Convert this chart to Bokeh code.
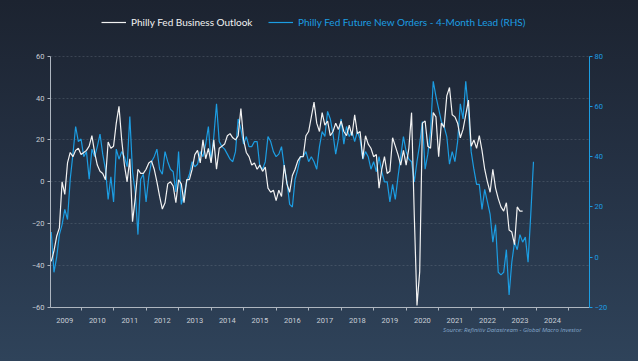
import numpy as np
from bokeh.plotting import figure
from bokeh.models import (Range1d, LinearAxis, FixedTicker, CustomJSTickFormatter,
                          Legend, LegendItem, Title)
from bokeh.embed import file_html
from bokeh.resources import INLINE

# ---- data (monthly, first month = Jan 2009) ----
start_year = 2009
outlook = [
    -38, -33, -26, -22, 0, -6, 9, 14, 12, 15, 16, 13,        # 2009
    14, 15, 17, 22, 14, 8, 5, 4, 1, 19, 16, 17,              # 2010
    28, 36, 20, 8, 0, 11, -19, -8, 6, 4, 4, 6,               # 2011
    9, 10, 6, 0, -7, -13, -10, -1, 0, -2, -10, 1,            # 2012
    -1, -10, 1, 1, 6, 13, 15, 9, 20, 11, 16, 9,              # 2013
    20, 6, 16, 17, 18, 22, 23, 21, 20, 22, 35, 20,           # 2014
    14, 12, 8, 9, 6, 8, 5, 7, -3, -5, -4, -9,                # 2015
    -4, -7, 8, -1, -5, 3, 6, 10, 12, 12, 22, 24,             # 2016
    31, 38, 28, 24, 33, 27, 29, 22, 24, 28, 25, 29,          # 2017
    24, 22, 27, 22, 32, 23, 24, 11, 22, 18, 16, 12,          # 2018
    13, -3, 6, 12, 4, 5, 21, 17, 13, 8, 15, 8,               # 2019
    16, 33, -16, -59, -43, 28, 29, 17, 16, 33, 31, 12,       # 2020
    28, 26, 41, 45, 32, 31, 28, 21, 25, 32, 39, 17,          # 2021
    20, 16, 22, 15, 6, 0, -5, 6, -3, -8, -12, -14,           # 2022
    -10, -23, -24, -30, -12, -14, -14,                       # 2023
]
new_orders_lead = [
    10, -6, 0, 9, 13, 19, 15, 31, 41, 52, 46, 47,            # 2009
    40, 42, 31, 43, 40, 44, 49, 41, 35, 23, 32, 22,          # 2010
    43, 39, 42, 40, 36, 56, 34, 26, 9, 31, 33, 22,           # 2011
    32, 38, 40, 43, 35, 33, 42, 38, 35, 34, 26, 42,          # 2012
    21, 25, 30, 33, 38, 36, 37, 42, 40, 45, 52, 38,          # 2013
    48, 61, 46, 44, 43, 41, 39, 38, 42, 55, 51, 45,          # 2014
    48, 44, 44, 46, 46, 36, 35, 38, 48, 46, 42, 40,          # 2015
    41, 44, 36, 30, 21, 20, 31, 35, 40, 40, 42, 38,          # 2016
    40, 38, 35, 44, 50, 48, 58, 55, 49, 41, 47, 55,          # 2017
    45, 52, 48, 50, 46, 50, 47, 39, 42, 40, 35, 38,          # 2018
    34, 40, 34, 30, 30, 22, 29, 23, 32, 40, 48, 42,          # 2019
    39, 38, 30, 38, 45, 54, 35, 41, 50, 70, 64, 59,          # 2020
    54, 52, 48, 37, 42, 38, 46, 61, 55, 70, 58, 42,          # 2021
    35, 29, 29, 19, 27, 22, 17, 6, 13, -6, -7, -6,           # 2022
    3, -15, -2, 6, 3, 9, 6, 8, -2, 17, 38,                   # 2023
]
year_labels = list(range(2009, 2025))
left_ticks = [-60, -40, -20, 0, 20, 40, 60]
right_ticks = [-20, 0, 20, 40, 60, 80]
left_bounds = (-60, 60)
right_bounds = (-20, 80)

# month-end positions in decimal years
x_out = start_year + (np.arange(len(outlook)) + 1) / 12.0
x_no = start_year + (np.arange(len(new_orders_lead)) + 1) / 12.0

WHITE = "#f2f2f2"
BLUE = "#1c9de2"
AXIS_GREY = "#aeb6c0"
LABEL_GREY = "#c9ced6"

# layout (pixels): frame extends to the top so the legend can sit inside it
FRAME_TOP = 6
AXIS_TOP = 55.6
AXIS_BOTTOM = 307
scale_px = AXIS_BOTTOM - AXIS_TOP
frame_h = AXIS_BOTTOM - FRAME_TOP
left_top = left_bounds[0] + frame_h * (left_bounds[1] - left_bounds[0]) / scale_px
right_top = right_bounds[0] + frame_h * (right_bounds[1] - right_bounds[0]) / scale_px

p = figure(width=638, height=361, x_range=Range1d(2009.06, 2025.64),
           y_range=Range1d(left_bounds[0], left_top), output_backend="svg",
           toolbar_location=None,
           min_border_left=50, min_border_right=49, min_border_top=FRAME_TOP,
           min_border_bottom=361 - AXIS_BOTTOM)
p.extra_y_ranges = {"rhs": Range1d(right_bounds[0], right_top)}
p.background_fill_alpha = 0
p.border_fill_alpha = 0
p.outline_line_color = None
p.styles = {"position": "fixed", "left": "0px", "top": "0px",
            "background": "linear-gradient(to bottom, #1c2330 0%, #253245 50%, #2f435a 100%)"}

# x axis: labels mid-year, ticks at year boundaries
xa = p.xaxis[0]
xa.ticker = FixedTicker(ticks=[y + 0.5 for y in year_labels],
                        minor_ticks=[y + 1 for y in year_labels])
xa.formatter = CustomJSTickFormatter(code="return String(Math.floor(tick));")
xa.major_tick_line_color = None
xa.minor_tick_line_color = AXIS_GREY
xa.minor_tick_out = 3
xa.minor_tick_in = 0
xa.axis_line_color = AXIS_GREY
xa.major_label_text_color = LABEL_GREY
xa.major_label_text_font = "Roboto"
xa.major_label_text_font_size = "7.5px"
xa.major_label_standoff = 4

ya = p.yaxis[0]
ya.ticker = FixedTicker(ticks=left_ticks)
ya.bounds = left_bounds
ya.axis_line_color = AXIS_GREY
ya.major_tick_line_color = AXIS_GREY
ya.major_tick_out = 3
ya.major_tick_in = 0
ya.minor_tick_line_color = None
ya.major_label_text_color = LABEL_GREY
ya.major_label_text_font = "Roboto"
ya.major_label_text_font_size = "7.5px"
ya.major_label_standoff = 3

p.xgrid.grid_line_color = None
p.ygrid.ticker = FixedTicker(ticks=left_ticks)
p.ygrid.grid_line_color = "#7a8594"
p.ygrid.grid_line_alpha = 0.45
p.ygrid.grid_line_dash = "2 2"
p.ygrid.grid_line_width = 0.7

ra = LinearAxis(y_range_name="rhs", ticker=FixedTicker(ticks=right_ticks), bounds=right_bounds)
ra.axis_line_color = BLUE
ra.major_tick_line_color = BLUE
ra.major_tick_out = 3
ra.major_tick_in = 0
ra.minor_tick_line_color = None
ra.major_label_text_color = BLUE
ra.major_label_text_font = "Roboto"
ra.major_label_text_font_size = "7.5px"
ra.major_label_standoff = 2
p.add_layout(ra, "right")

rb = p.line(x_no, new_orders_lead, y_range_name="rhs", line_color=BLUE, line_width=1.2)
rw = p.line(x_out, outlook, line_color=WHITE, line_width=1.2)

def make_legend(label, renderer, color, loc):
    return Legend(items=[LegendItem(label=label, renderers=[renderer])], location=loc,
                  orientation="horizontal", background_fill_alpha=0, border_line_alpha=0,
                  label_text_color=color, label_text_font="Lato", label_text_font_size="10px",
                  glyph_width=25, glyph_height=12, label_height=12, label_standoff=5,
                  padding=0, margin=0, spacing=0)

p.add_layout(make_legend("Philly Fed Business Outlook", rw, WHITE, (51, 279)))
p.add_layout(make_legend("Philly Fed Future New Orders - 4-Month Lead (RHS)", rb, BLUE, (218, 279)))

p.add_layout(Title(text="Source: Refinitiv Datastream - Global Macro Investor",
                   align="right", offset=8, standoff=-4, text_font="Open Sans",
                   text_font_style="italic", text_font_size="6px", text_color="#86a9cc"),
             "below")

open("out.html", "w").write(file_html(p, INLINE))
